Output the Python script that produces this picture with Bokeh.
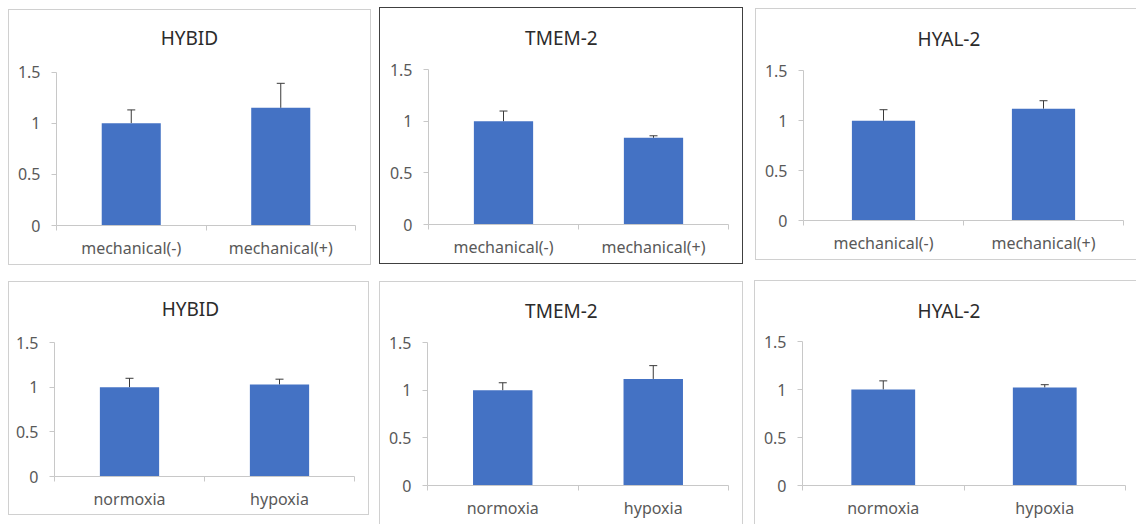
from bokeh.plotting import figure
from bokeh.layouts import row, column
from bokeh.models import (ColumnDataSource, FixedTicker, NumeralTickFormatter,
                          Whisker, TeeHead, Range1d, Label)
from bokeh.embed import file_html
from bokeh.resources import INLINE

# ---------------- data ----------------
titles = ["HYBID", "TMEM-2", "HYAL-2", "HYBID", "TMEM-2", "HYAL-2"]
mech_categories = ["mechanical(-)", "mechanical(+)"]
hyp_categories = ["normoxia", "hypoxia"]

hybid_mech_mean = [1.00, 1.15]
hybid_mech_err = [0.13, 0.24]
tmem2_mech_mean = [1.00, 0.84]
tmem2_mech_err = [0.10, 0.02]
hyal2_mech_mean = [1.00, 1.12]
hyal2_mech_err = [0.11, 0.08]

hybid_hyp_mean = [1.00, 1.03]
hybid_hyp_err = [0.10, 0.06]
tmem2_hyp_mean = [1.00, 1.12]
tmem2_hyp_err = [0.08, 0.14]
hyal2_hyp_mean = [1.00, 1.02]
hyal2_hyp_err = [0.09, 0.03]

y_ticks = [0, 0.5, 1, 1.5]
y_max = 1.5

# ---------------- styling / layout ----------------
FONT = "Noto Sans"
BAR = "#4472C4"
AXIS = "#c8c8c8"
LABEL = "#595959"
LIGHT = "#d0d0d0"
DARK = "#404040"

# canvas w, h, margin, frame left, frame right, px of 1.5, px of 0, title cx, title cy, border color, border sides
geom = [
    dict(w=361, h=254, margin=(9, 0, 0, 8), fl=47, fr=344, y15=61, y0=213, tcx=179, tcy=27, col=LIGHT, sides="trbl"),
    dict(w=362, h=255, margin=(7, 0, 0, 8), fl=48, fr=346, y15=61, y0=215, tcx=180, tcy=29, col=DARK, sides="trbl"),
    dict(w=380, h=250, margin=(8, 0, 0, 12), fl=47, fr=366, y15=61, y0=210, tcx=192, tcy=29, col=LIGHT, sides="tbl"),
    dict(w=359, h=232, margin=(16, 0, 0, 8), fl=45, fr=343, y15=61, y0=197, tcx=180, tcy=27, col=LIGHT, sides="trbl"),
    dict(w=362, h=242, margin=(16, 0, 0, 10), fl=47, fr=346, y15=60, y0=202, tcx=180, tcy=28, col=LIGHT, sides="tlr"),
    dict(w=381, h=243, margin=(15, 0, 0, 11), fl=47, fr=369, y15=60, y0=204, tcx=193, tcy=29, col=LIGHT, sides="tl"),
]

panels_data = [
    (titles[0], mech_categories, hybid_mech_mean, hybid_mech_err),
    (titles[1], mech_categories, tmem2_mech_mean, tmem2_mech_err),
    (titles[2], mech_categories, hyal2_mech_mean, hyal2_mech_err),
    (titles[3], hyp_categories, hybid_hyp_mean, hybid_hyp_err),
    (titles[4], hyp_categories, tmem2_hyp_mean, tmem2_hyp_err),
    (titles[5], hyp_categories, hyal2_hyp_mean, hyal2_hyp_err),
]


def border_styles(color, sides):
    st = {"box-sizing": "content-box"}
    names = {"t": "top", "r": "right", "b": "bottom", "l": "left"}
    for k, n in names.items():
        st["border-" + n] = ("1px solid " + color) if k in sides else "none"
    return st


def make_panel(title, cats, mean, err, g):
    n = len(cats)
    xs = [i + 0.5 for i in range(n)]
    uppers = [m + e for m, e in zip(mean, err)]
    # extend the frame to the top of the canvas so that the title sits inside it
    y_end = y_max * g["y0"] / (g["y0"] - g["y15"])
    p = figure(width=g["w"], height=g["h"], output_backend="svg", toolbar_location=None,
               x_range=Range1d(0, n), y_range=Range1d(0, y_end),
               min_border_left=g["fl"], min_border_right=g["w"] - g["fr"],
               min_border_top=0, min_border_bottom=g["h"] - g["y0"],
               margin=g["margin"], styles=border_styles(g["col"], g["sides"]))
    p.background_fill_color = "white"
    p.border_fill_color = "white"
    p.outline_line_color = None
    p.xgrid.visible = False
    p.ygrid.visible = False

    src = ColumnDataSource(dict(x=xs, top=mean, upper=uppers))
    p.vbar(x="x", top="top", width=0.395, bottom=0, source=src,
           fill_color=BAR, line_color=None)
    p.add_layout(Whisker(base="x", lower="top", upper="upper", source=src,
                         dimension="height", line_color="#3a3a3a", line_width=1,
                         upper_head=TeeHead(size=8, line_color="#3a3a3a", line_width=1),
                         lower_head=None))

    # x axis: labels at category centers, tick marks at category boundaries
    xa = p.xaxis[0]
    xa.ticker = FixedTicker(ticks=xs, minor_ticks=[float(i) for i in range(n + 1)])
    xa.major_label_overrides = {x: c for x, c in zip(xs, cats)}
    xa.major_tick_line_color = None
    xa.major_tick_out = 0
    xa.major_tick_in = 0
    xa.minor_tick_line_color = AXIS
    xa.minor_tick_out = 5
    xa.minor_tick_in = 0
    xa.axis_line_color = AXIS
    xa.major_label_standoff = 6
    xa.major_label_text_font = FONT
    xa.major_label_text_font_size = "16px"
    xa.major_label_text_color = LABEL

    ya = p.yaxis[0]
    ya.ticker = FixedTicker(ticks=y_ticks, minor_ticks=[])
    ya.formatter = NumeralTickFormatter(format="0.[0]")
    ya.bounds = (0, y_max)
    ya.axis_line_color = AXIS
    ya.major_tick_line_color = AXIS
    ya.major_tick_out = 5
    ya.major_tick_in = 0
    ya.minor_tick_line_color = None
    ya.major_label_standoff = 11
    ya.major_label_text_font = FONT
    ya.major_label_text_font_size = "16px"
    ya.major_label_text_color = LABEL

    tx = (g["tcx"] - g["fl"]) / (g["fr"] - g["fl"]) * n
    ty = y_max * (g["y0"] - g["tcy"]) / (g["y0"] - g["y15"])
    p.add_layout(Label(x=tx, y=ty, text=title, text_align="center", text_baseline="middle",
                       text_font=FONT, text_font_size="19px", text_color="#2b2b2b"))
    return p


figs = [make_panel(t, c, m, e, g) for (t, c, m, e), g in zip(panels_data, geom)]

layout = column(row(figs[0], figs[1], figs[2], spacing=0),
                row(figs[3], figs[4], figs[5], spacing=0), spacing=0)

open("out.html", "w").write(file_html(layout, INLINE))
